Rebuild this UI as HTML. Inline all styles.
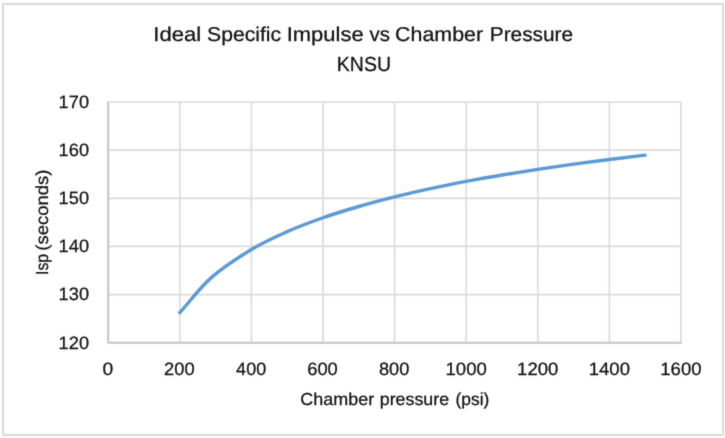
<!DOCTYPE html>
<html lang="en">
<head>
<meta charset="utf-8">
<title>Ideal Specific Impulse vs Chamber Pressure - KNSU</title>
<style>
html,body{margin:0;padding:0;background:#ffffff;}
body{width:725px;height:438px;overflow:hidden;font-family:"Liberation Sans",sans-serif;}
svg{display:block;position:absolute;left:0;top:0;will-change:transform;}
text{text-rendering:geometricPrecision;font-kerning:none;white-space:pre;}
</style>
</head>
<body>
<svg width="725" height="438" viewBox="0 0 725 438">
<defs><filter id="soft" x="0" y="0" width="725" height="438" filterUnits="userSpaceOnUse" color-interpolation-filters="sRGB"><feConvolveMatrix order="3" kernelMatrix="0.02 0.08 0.02 0.08 0.6 0.08 0.02 0.08 0.02" divisor="1" edgeMode="duplicate" preserveAlpha="true"/></filter></defs>
<rect x="0" y="0" width="725" height="438" fill="#ffffff"/>
<g filter="url(#soft)">
<rect x="0" y="0" width="725" height="438" fill="#ffffff"/>
<rect x="3" y="4" width="720" height="431" fill="none" stroke="#dbdbdb" stroke-width="2"/>
<g stroke="#dbdbdb" stroke-width="1.7">
<line x1="179.80" y1="102.00" x2="179.80" y2="342.70"/>
<line x1="251.40" y1="102.00" x2="251.40" y2="342.70"/>
<line x1="323.00" y1="102.00" x2="323.00" y2="342.70"/>
<line x1="394.60" y1="102.00" x2="394.60" y2="342.70"/>
<line x1="466.20" y1="102.00" x2="466.20" y2="342.70"/>
<line x1="537.80" y1="102.00" x2="537.80" y2="342.70"/>
<line x1="609.40" y1="102.00" x2="609.40" y2="342.70"/>
<line x1="681.00" y1="102.00" x2="681.00" y2="342.70"/>
<line x1="108.20" y1="294.56" x2="681.00" y2="294.56"/>
<line x1="108.20" y1="246.42" x2="681.00" y2="246.42"/>
<line x1="108.20" y1="198.28" x2="681.00" y2="198.28"/>
<line x1="108.20" y1="150.14" x2="681.00" y2="150.14"/>
<line x1="108.20" y1="102.00" x2="681.00" y2="102.00"/>
</g>
<path d="M108.20,101.70 L108.20,342.70 L681.80,342.70" fill="none" stroke="#c4c4c4" stroke-width="2" stroke-linejoin="round"/>
<path d="M179.80,312.65 C190.30,300.97 199.37,288.14 211.30,277.62 C223.24,267.10 238.75,257.20 251.40,249.54 C264.05,241.87 275.27,236.93 287.20,231.63 C299.13,226.34 311.07,221.95 323.00,217.76 C334.93,213.57 346.87,209.98 358.80,206.50 C370.73,203.02 382.67,199.87 394.60,196.89 C406.53,193.92 418.47,191.22 430.40,188.64 C442.33,186.07 454.27,183.70 466.20,181.44 C478.13,179.17 490.07,177.07 502.00,175.05 C513.93,173.03 525.87,171.15 537.80,169.33 C549.73,167.52 561.67,165.81 573.60,164.16 C585.53,162.51 597.47,160.95 609.40,159.44 C621.33,157.94 633.27,156.56 645.20,155.12" fill="none" stroke="#5b9bd5" stroke-width="3.4" stroke-linecap="round" stroke-linejoin="round"/>
<g font-family="'Liberation Sans', sans-serif" fill="#111111" stroke="#111111" stroke-width="0.25" stroke-linejoin="round">
<text x="153.39" y="40.90" font-size="20.00" textLength="47.86" lengthAdjust="spacingAndGlyphs">Ideal</text>
<text x="207.06" y="40.90" font-size="20.00" textLength="74.07" lengthAdjust="spacingAndGlyphs">Specific</text>
<text x="286.70" y="40.90" font-size="20.00" textLength="76.95" lengthAdjust="spacingAndGlyphs">Impulse</text>
<text x="369.46" y="40.90" font-size="20.00" textLength="20.46" lengthAdjust="spacingAndGlyphs">vs</text>
<text x="395.14" y="40.90" font-size="20.00" textLength="87.99" lengthAdjust="spacingAndGlyphs">Chamber</text>
<text x="489.82" y="40.90" font-size="20.00" textLength="83.28" lengthAdjust="spacingAndGlyphs">Pressure</text>
<text x="336.83" y="70.60" font-size="20.40" textLength="54.15" lengthAdjust="spacingAndGlyphs">KNSU</text>
<text x="58.63" y="348.60" font-size="17.90" textLength="30.45" lengthAdjust="spacingAndGlyphs">120</text>
<text x="58.63" y="300.46" font-size="17.90" textLength="30.45" lengthAdjust="spacingAndGlyphs">130</text>
<text x="58.63" y="252.32" font-size="17.90" textLength="30.45" lengthAdjust="spacingAndGlyphs">140</text>
<text x="58.63" y="204.18" font-size="17.90" textLength="30.45" lengthAdjust="spacingAndGlyphs">150</text>
<text x="58.63" y="156.04" font-size="17.90" textLength="30.45" lengthAdjust="spacingAndGlyphs">160</text>
<text x="58.63" y="107.90" font-size="17.90" textLength="30.45" lengthAdjust="spacingAndGlyphs">170</text>
<text x="102.42" y="374.60" font-size="17.90" textLength="10.76" lengthAdjust="spacingAndGlyphs">0</text>
<text x="164.00" y="374.60" font-size="17.90" textLength="30.59" lengthAdjust="spacingAndGlyphs">200</text>
<text x="236.11" y="374.60" font-size="17.90" textLength="30.07" lengthAdjust="spacingAndGlyphs">400</text>
<text x="307.19" y="374.60" font-size="17.90" textLength="30.60" lengthAdjust="spacingAndGlyphs">600</text>
<text x="378.93" y="374.60" font-size="17.90" textLength="30.46" lengthAdjust="spacingAndGlyphs">800</text>
<text x="445.51" y="374.60" font-size="17.90" textLength="41.29" lengthAdjust="spacingAndGlyphs">1000</text>
<text x="517.11" y="374.60" font-size="17.90" textLength="41.29" lengthAdjust="spacingAndGlyphs">1200</text>
<text x="588.71" y="374.60" font-size="17.90" textLength="41.29" lengthAdjust="spacingAndGlyphs">1400</text>
<text x="660.31" y="374.60" font-size="17.90" textLength="41.29" lengthAdjust="spacingAndGlyphs">1600</text>
<text x="300.31" y="404.80" font-size="17.40" textLength="73.86" lengthAdjust="spacingAndGlyphs">Chamber</text>
<text x="379.78" y="404.80" font-size="17.40" textLength="69.29" lengthAdjust="spacingAndGlyphs">pressure</text>
<text x="455.44" y="404.80" font-size="17.40" textLength="33.91" lengthAdjust="spacingAndGlyphs">(psi)</text>
<g transform="translate(47.6,0) rotate(-90)">
<text x="-275.04" y="0.00" font-size="17.40" textLength="21.18" lengthAdjust="spacingAndGlyphs">Isp</text>
<text x="-250.72" y="0.00" font-size="17.40" textLength="81.04" lengthAdjust="spacingAndGlyphs">(seconds)</text>
</g>
</g>
</g>
</svg>
</body>
</html>
